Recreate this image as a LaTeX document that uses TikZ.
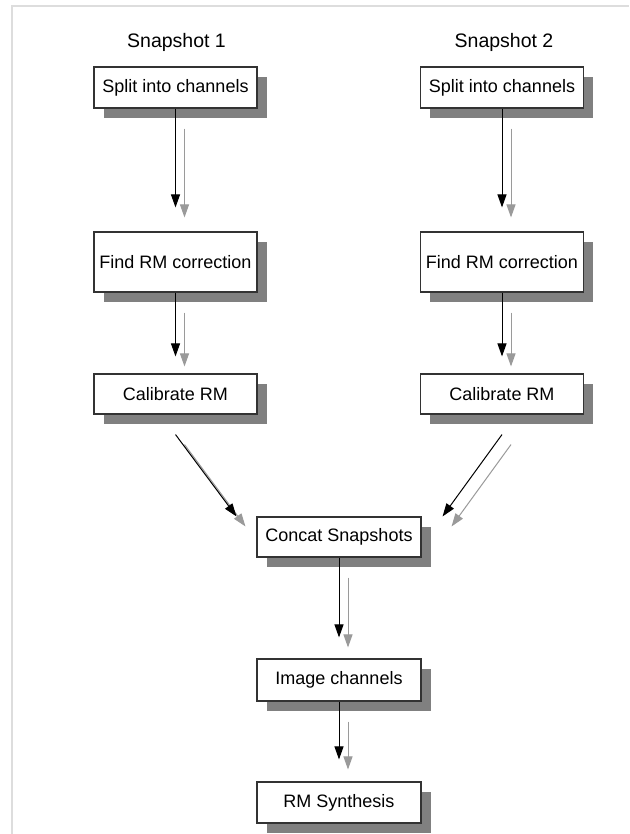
\documentclass[tikz,border=0pt]{standalone}
\usepackage{fontspec}
\setmainfont{Liberation Sans}
\usetikzlibrary{shadows,arrows.meta}
\definecolor{boxline}{HTML}{333333}
\definecolor{shadowgray}{HTML}{808080}
\definecolor{ghostgray}{HTML}{9A9A9A}
\definecolor{framegray}{HTML}{DDDDDD}
\begin{document}
\begin{tikzpicture}[x=1pt,y=-1pt,
  stagebox/.style={draw=boxline, line width=1.1pt, fill=white, inner sep=0pt,
    minimum width=163pt, font=\fontsize{18}{21}\selectfont,
    drop shadow={shadow xshift=9.5pt, shadow yshift=-10pt, fill=shadowgray, opacity=1}},
  coltitle/.style={font=\fontsize{19.5}{23}\selectfont, anchor=base},
  flow/.style={draw=black, line width=1pt, -{Triangle[length=13pt,width=9pt]}},
  ghost/.style={draw=ghostgray, line width=1pt, -{Triangle[length=13pt,width=9pt]},
    transform canvas={shift={(9pt,-10pt)}}},
]
\useasboundingbox (0,0) rectangle (629,834);
\fill[white] (0,0) rectangle (629,834);
% page frame
\draw[framegray, line width=2pt] (12,834) -- (12,6) -- (629,6);

% column titles
\node[coltitle] (t1) at (176.5,48) {Snapshot 1};
\node[coltitle] (t2) at (504,48) {Snapshot 2};

% processing stages
\node[stagebox, minimum height=41pt] (split1) at (175.5,87.5) {Split into channels};
\node[stagebox, minimum height=41pt] (split2) at (502,87.5) {Split into channels};
\node[stagebox, minimum height=60pt] (find1) at (175.5,262) {Find RM correction};
\node[stagebox, minimum height=60pt] (find2) at (502,262) {Find RM correction};
\node[stagebox, minimum height=40pt] (cal1) at (175.5,394) {Calibrate RM};
\node[stagebox, minimum height=40pt] (cal2) at (502,394) {Calibrate RM};
\node[stagebox, minimum height=40pt, minimum width=164pt] (concat) at (339,537) {Concat Snapshots};
\node[stagebox, minimum height=42pt, minimum width=164pt] (image) at (339,680) {Image channels};
\node[stagebox, minimum height=41pt, minimum width=164pt] (synth) at (339,802.5) {RM Synthesis};

% free ends of the merging arrows
\coordinate (m1s) at ([yshift=-20pt]cal1.south);
\coordinate (m1e) at ([xshift=-20pt]concat.north west);
\coordinate (m2s) at ([yshift=-20pt]cal2.south);
\coordinate (m2e) at ([xshift=21pt]concat.north east);

% arrow shadows
\draw[ghost, shorten <=10pt, shorten >=24pt] (split1.south) -- (find1.north);
\draw[ghost, shorten <=10pt, shorten >=24pt] (split2.south) -- (find2.north);
\draw[ghost, shorten <=10pt, shorten >=17pt] (find1.south) -- (cal1.north);
\draw[ghost, shorten <=10pt, shorten >=17pt] (find2.south) -- (cal2.north);
\draw[ghost] (m1s) -- (m1e);
\draw[ghost] (m2s) -- (m2e);
\draw[ghost, shorten <=10pt, shorten >=21pt] (concat.south) -- (image.north);
\draw[ghost, shorten <=10pt, shorten >=22pt] (image.south) -- (synth.north);

% arrows
\draw[flow, shorten >=24pt] (split1.south) -- (find1.north);
\draw[flow, shorten >=24pt] (split2.south) -- (find2.north);
\draw[flow, shorten >=17pt] (find1.south) -- (cal1.north);
\draw[flow, shorten >=17pt] (find2.south) -- (cal2.north);
\draw[flow] (m1s) -- (m1e);
\draw[flow] (m2s) -- (m2e);
\draw[flow, shorten >=21pt] (concat.south) -- (image.north);
\draw[flow, shorten >=22pt] (image.south) -- (synth.north);
\end{tikzpicture}
\end{document}
